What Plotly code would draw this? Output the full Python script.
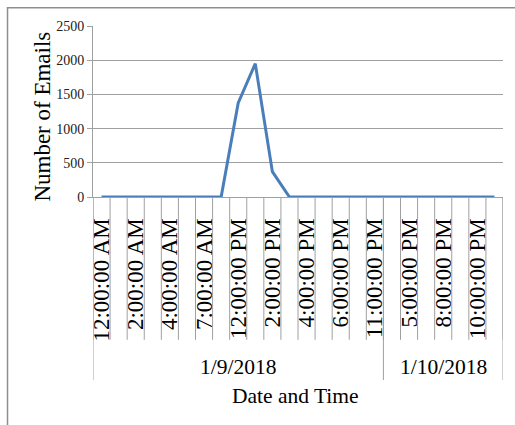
import plotly.graph_objects as go

# Emails received per time slot (24 slots across two days)
emails = [0, 0, 0, 0, 0, 0, 0, 0, 1375, 1950, 370, 0,
          0, 0, 0, 0, 0, 0, 0, 0, 0, 0, 0, 0]
# Time labels shown on every other slot
time_labels = ["12:00:00 AM", "2:00:00 AM", "4:00:00 AM", "7:00:00 AM",
               "12:00:00 PM", "2:00:00 PM", "4:00:00 PM", "6:00:00 PM",
               "11:00:00 PM", "5:00:00 PM", "8:00:00 PM", "10:00:00 PM"]
dates = ["1/9/2018", "1/10/2018"]
slots_per_date = [17, 7]
y_ticks = [0, 500, 1000, 1500, 2000, 2500]

n = len(emails)
slots = list(range(n))
label_step = 2

SERIF = "Liberation Serif, Times New Roman, serif"
GRID = "#a0a0a0"

fig = go.Figure()
fig.add_trace(go.Scatter(
    x=slots, y=emails, mode="lines",
    line=dict(color="#4a7ebb", width=3),
    hoverinfo="skip", showlegend=False,
))

shapes = []
annotations = []

# Category separators below the axis
tick_bottom = -0.835
for i in range(n + 1):
    shapes.append(dict(type="line", xref="x", yref="paper",
                       x0=i - 0.5, x1=i - 0.5, y0=0, y1=tick_bottom,
                       line=dict(color=GRID, width=1)))

# Date group separators and labels
group_bottom = -1.07
start = 0
edges = [-0.5]
for d, cnt in zip(dates, slots_per_date):
    end = start + cnt
    edges.append(end - 0.5)
    annotations.append(dict(text=d, xref="x", yref="paper",
                            x=(start + end - 1) / 2, y=-0.992,
                            xanchor="center", yanchor="middle",
                            showarrow=False,
                            font=dict(family=SERIF, size=21.5, color="#000")))
    start = end
for e in edges:
    shapes.append(dict(type="line", xref="x", yref="paper",
                       x0=e, x1=e, y0=0, y1=group_bottom,
                       line=dict(color=GRID, width=1)))

# Axis titles
annotations.append(dict(text="Date and Time", xref="paper", yref="paper",
                        x=0.495, y=-1.162, xanchor="center", yanchor="middle",
                        showarrow=False,
                        font=dict(family=SERIF, size=21.5, color="#000")))
annotations.append(dict(text="Number of Emails", xref="paper", yref="paper",
                        x=-0.122, y=0.47, xanchor="center", yanchor="middle",
                        textangle=-90, showarrow=False,
                        font=dict(family=SERIF, size=23, color="#000")))

# Chart area border
shapes.append(dict(type="rect", xref="paper", yref="paper",
                   x0=-0.2085, x1=1.06, y0=-1.45, y1=1.106,
                   line=dict(color="#8f8f8f", width=1.5),
                   fillcolor="rgba(0,0,0,0)", layer="below"))

fig.update_layout(
    width=515, height=425,
    margin=dict(l=93, r=12, t=26, b=228),
    paper_bgcolor="white", plot_bgcolor="white",
    shapes=shapes, annotations=annotations,
    xaxis=dict(
        range=[-0.5, n - 0.5],
        tickmode="array",
        tickvals=slots[::label_step],
        ticktext=time_labels,
        tickangle=-90,
        ticks="",
        ticklabelstandoff=11,
        tickfont=dict(family=SERIF, size=23, color="#000"),
        showgrid=False, zeroline=False,
        showline=True, linecolor=GRID, linewidth=1,
    ),
    yaxis=dict(
        range=[0, 2500],
        tickmode="array",
        tickvals=y_ticks,
        ticks="outside", ticklen=5, tickcolor=GRID,
        tickfont=dict(family=SERIF, size=14, color="#222"),
        showgrid=True, gridcolor=GRID, gridwidth=1,
        zeroline=False,
        showline=True, linecolor=GRID, linewidth=1,
    ),
)

fig.write_html("out.html")
